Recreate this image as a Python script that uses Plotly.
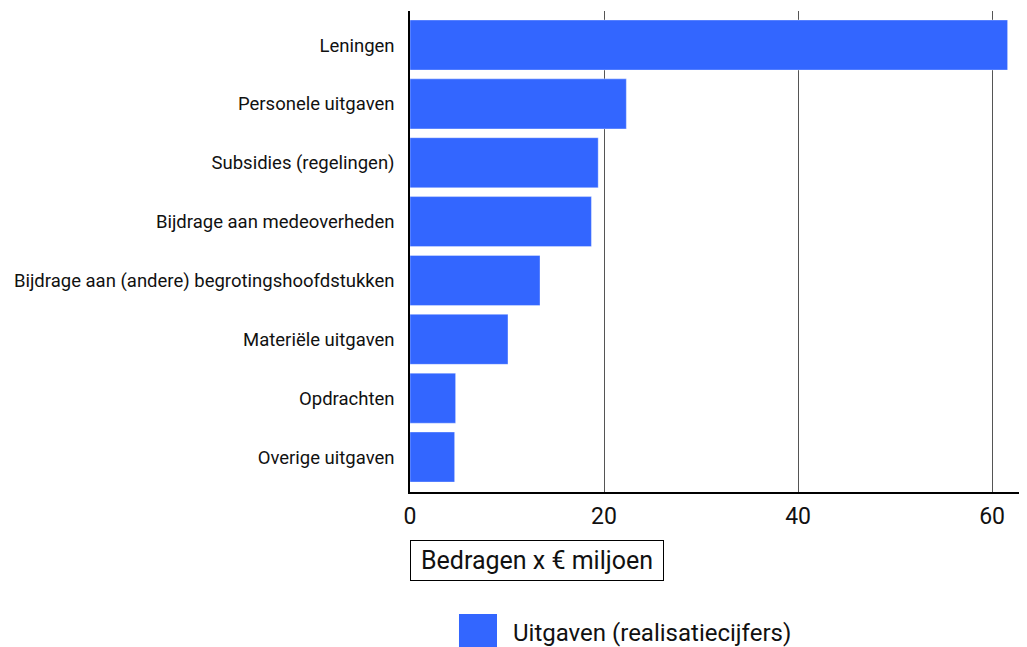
import plotly.graph_objects as go

categories = [
    "Leningen",
    "Personele uitgaven",
    "Subsidies (regelingen)",
    "Bijdrage aan medeoverheden",
    "Bijdrage aan (andere) begrotingshoofdstukken",
    "Materiële uitgaven",
    "Opdrachten",
    "Overige uitgaven",
]
values = [61.6, 22.3, 19.4, 18.7, 13.4, 10.1, 4.7, 4.6]
x_ticks = [0, 20, 40, 60]
series_name = "Uitgaven (realisatiecijfers)"
axis_title = "Bedragen x € miljoen"

BAR = "#3366ff"
FONT = "Roboto"

fig = go.Figure()
fig.add_trace(go.Bar(
    y=categories,
    x=values,
    orientation="h",
    name=series_name,
    marker=dict(color=BAR, line=dict(color="rgba(255,255,255,0.35)", width=1)),
    showlegend=False,
))

fig.update_layout(
    width=1019,
    height=639,
    margin=dict(l=402, r=0, t=3, b=155),
    paper_bgcolor="white",
    plot_bgcolor="white",
    font=dict(family=FONT, color="#111"),
    bargap=0.15,
    xaxis=dict(
        range=[0, 63.6],
        tickvals=x_ticks,
        ticktext=[str(t) for t in x_ticks],
        tickfont=dict(size=23, color="#111"),
        showgrid=True,
        gridcolor="#555",
        gridwidth=1,
        zeroline=False,
        showline=True,
        linecolor="black",
        linewidth=1.5,
        ticks="",
        ticklabelstandoff=3,
        fixedrange=True,
    ),
    yaxis=dict(
        type="category",
        categoryorder="array",
        categoryarray=categories,
        range=[7.594, -0.578],
        tickfont=dict(size=18.5, color="#111"),
        showgrid=False,
        zeroline=False,
        showline=True,
        linecolor="black",
        linewidth=1.5,
        ticks="",
        ticklabelstandoff=10,
        fixedrange=True,
    ),
    annotations=[
        dict(
            text=axis_title,
            x=0, xref="paper", xanchor="left",
            y=-0.1424, yref="paper", yanchor="middle",
            showarrow=False,
            width=242,
            align="center",
            font=dict(size=25, family=FONT, color="#111"),
            bordercolor="black",
            borderwidth=1,
            borderpad=5,
            bgcolor="white",
        ),
        dict(
            text=series_name,
            x=0.164, xref="paper", xanchor="left",
            y=-0.293, yref="paper", yanchor="middle",
            showarrow=False,
            font=dict(size=24, family=FONT, color="#111"),
        ),
    ],
    shapes=[
        dict(
            type="rect", xref="paper", yref="paper",
            x0=0.0794, x1=0.141, y0=-0.2536, y1=-0.333,
            fillcolor=BAR, line=dict(width=0),
        )
    ],
)

fig.write_html("out.html")
